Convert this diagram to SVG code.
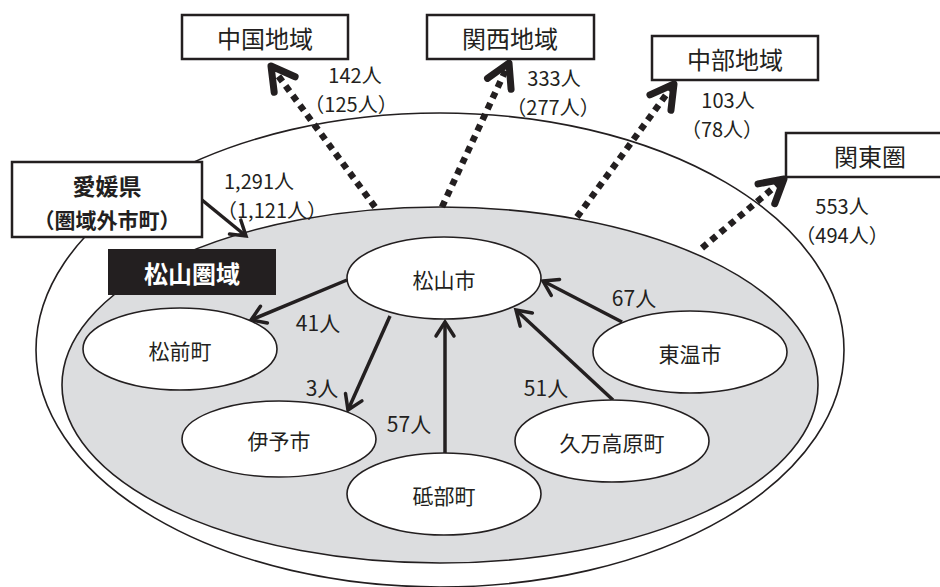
<svg xmlns="http://www.w3.org/2000/svg" width="940" height="587" viewBox="0 0 940 587">
<style>
text{font-family:"Noto Sans CJK JP","Noto Sans",sans-serif;fill:#231f20;text-anchor:middle;dominant-baseline:central}
.lbl{font-size:21px}
.lb2{font-size:20px}
.nd{font-size:21px}
.bx{font-size:24px}
.node ellipse{fill:#fff;stroke:#231f20;stroke-width:1.6}
.box rect{fill:#fff;stroke:#231f20;stroke-width:2.5}
.solid{fill:none;stroke:#231f20;stroke-width:3.5;marker-end:url(#ah)}
.dot{fill:none;stroke:#231f20;stroke-width:6.5;stroke-dasharray:6.5 5.5;marker-end:url(#dh)}
</style>
<defs>
<marker id="ah" markerUnits="userSpaceOnUse" viewBox="-20 -15 24 30" markerWidth="24" markerHeight="30" refX="0" refY="0" orient="auto" overflow="visible">
<path d="M-14,-9 L0,0 L-14,9" fill="none" stroke="#231f20" stroke-width="3.5" stroke-linecap="round" stroke-linejoin="miter"/>
</marker>
<marker id="dh" markerUnits="userSpaceOnUse" viewBox="-30 -20 34 40" markerWidth="34" markerHeight="40" refX="0" refY="0" orient="auto" overflow="visible">
<path d="M-23,-13 L0,0 L-23,13" fill="none" stroke="#231f20" stroke-width="7" stroke-linecap="round" stroke-linejoin="round"/>
</marker>
</defs>
<rect width="940" height="587" fill="#fff"/>
<g id="region-outer">
<ellipse cx="440" cy="350" rx="404" ry="237" fill="#fff" stroke="#231f20" stroke-width="1.6"/>
</g>
<g id="region-matsuyama">
<ellipse cx="440" cy="385" rx="378" ry="178" fill="#dcdddf" stroke="#231f20" stroke-width="1.6"/>
</g>
<g id="connectors">
<path class="dot" d="M375,207 L271,66"/>
<path class="dot" d="M442,207 L509,63"/>
<path class="dot" d="M577,217 L674,84"/>
<path class="dot" d="M702,248 L784,179"/>
<path class="solid" d="M202,200 L246,236"/>
<path class="solid" d="M347,280 L251,320"/>
<path class="solid" d="M390,316 L348,410"/>
<path class="solid" d="M445,453 L445,322"/>
<path class="solid" d="M613,400 L516,310"/>
<path class="solid" d="M622,322 L543,281"/>
</g>
<g id="node-matsuyama" class="node"><ellipse cx="444" cy="278" rx="97" ry="41"/><text class="nd" x="444" y="279">松山市</text></g>
<g id="node-masaki" class="node"><ellipse cx="180" cy="349" rx="97" ry="41"/><text class="nd" x="180" y="350">松前町</text></g>
<g id="node-iyo" class="node"><ellipse cx="279" cy="439" rx="97" ry="38"/><text class="nd" x="279" y="440">伊予市</text></g>
<g id="node-tobe" class="node"><ellipse cx="444" cy="494" rx="97" ry="41"/><text class="nd" x="444" y="495">砥部町</text></g>
<g id="node-kumakogen" class="node"><ellipse cx="612" cy="441" rx="97" ry="41"/><text class="nd" x="612" y="442">久万高原町</text></g>
<g id="node-toon" class="node"><ellipse cx="690" cy="352" rx="97" ry="41"/><text class="nd" x="690" y="353">東温市</text></g>
<g id="labels">
<text class="lbl" x="318" y="322">41人</text>
<text class="lbl" x="322" y="387">3人</text>
<text class="lbl" x="409" y="423">57人</text>
<text class="lbl" x="546" y="387">51人</text>
<text class="lbl" x="634" y="297">67人</text>
<text class="lb2" x="355" y="74">142人</text>
<text class="lb2" x="351" y="103">（125人）</text>
<text class="lb2" x="554" y="77">333人</text>
<text class="lb2" x="553" y="106">（277人）</text>
<text class="lb2" x="728" y="99">103人</text>
<text class="lb2" x="722" y="128">（78人）</text>
<text class="lb2" x="842" y="205">553人</text>
<text class="lb2" x="842" y="234">（494人）</text>
<text class="lb2" x="259" y="180">1,291人</text>
<text class="lb2" x="272" y="209">（1,121人）</text>
</g>
<g id="box-chugoku" class="box"><rect x="182" y="15" width="166" height="44"/><text class="bx" x="265" y="37">中国地域</text></g>
<g id="box-kansai" class="box"><rect x="427" y="15" width="167" height="44"/><text class="bx" x="510" y="37">関西地域</text></g>
<g id="box-chubu" class="box"><rect x="652" y="36" width="166" height="44"/><text class="bx" x="735" y="58">中部地域</text></g>
<g id="box-kanto" class="box"><rect x="786" y="133" width="170" height="44"/><text class="bx" x="870" y="155">関東圏</text></g>
<g id="box-ehime" class="box"><rect x="12" y="162" width="190" height="75"/><text x="107" y="185" style="font-size:23px;font-weight:bold">愛媛県</text><text x="107" y="219" style="font-size:21px;font-weight:bold">（圏域外市町）</text></g>
<g id="box-matsuyama-area"><rect x="108" y="249" width="168" height="46" fill="#231f20"/><text x="192" y="272" style="font-size:24px;font-weight:bold;fill:#fff">松山圏域</text></g>
</svg>
